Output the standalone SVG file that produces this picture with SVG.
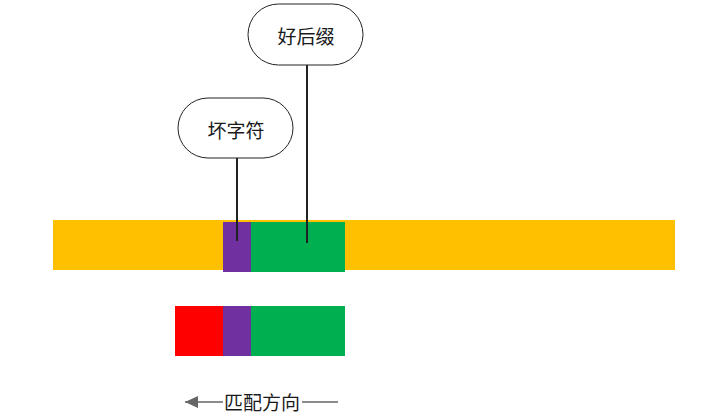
<svg xmlns="http://www.w3.org/2000/svg" width="722" height="420" viewBox="0 0 722 420">
<style>
.lbl{font-family:"Noto Sans CJK SC","Noto Sans",sans-serif;font-size:19px;fill:#1a1a1a;text-anchor:middle;dominant-baseline:central}
.pill{fill:#fff;stroke:#222;stroke-width:1}
.conn{stroke:#222;stroke-width:2;fill:none}
</style>
<defs>
<marker id="ah" markerWidth="14" markerHeight="12" refX="13" refY="6" orient="auto" markerUnits="userSpaceOnUse">
<path d="M0,0 L13,6 L0,12 Z" fill="#666"/>
</marker>
</defs>
<rect width="722" height="420" fill="#fff"/>
<g id="bars">
<rect x="53" y="220" width="622" height="50" fill="#FFC000"/>
<rect x="223" y="222" width="28" height="50" fill="#7030A0"/>
<rect x="251" y="222" width="94" height="50" fill="#00B050"/>
<rect x="175" y="306" width="48" height="50" fill="#FF0000"/>
<rect x="223" y="306" width="28" height="50" fill="#7030A0"/>
<rect x="251" y="306" width="94" height="50" fill="#00B050"/>
</g>
<g id="connectors">
<line class="conn" x1="237" y1="158" x2="237" y2="241"/>
<line class="conn" x1="307" y1="65" x2="307" y2="243"/>
</g>
<g id="node-good-suffix">
<rect class="pill" x="248" y="4" width="115" height="61" rx="30.5"/>
<text class="lbl" x="306" y="35">好后缀</text>
</g>
<g id="node-bad-char">
<rect class="pill" x="178" y="98" width="115" height="60" rx="30"/>
<text class="lbl" x="236" y="129">坏字符</text>
</g>
<g id="direction">
<line x1="223" y1="402" x2="185" y2="402" stroke="#666" stroke-width="1.5" marker-end="url(#ah)"/>
<line x1="302" y1="402" x2="338" y2="402" stroke="#666" stroke-width="1.5"/>
<text class="lbl" x="262" y="401">匹配方向</text>
</g>
</svg>
